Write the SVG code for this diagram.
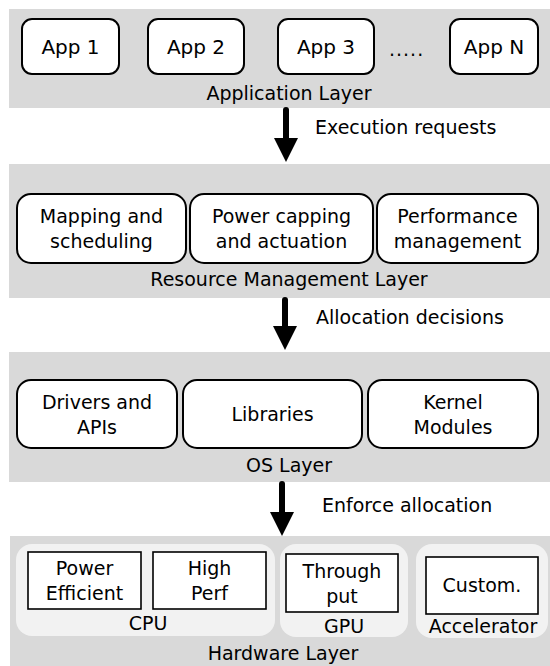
<svg xmlns="http://www.w3.org/2000/svg" width="550" height="666" viewBox="0 0 550 666">
  <defs>
    <style>
      text { font-family: "DejaVu Sans", "Liberation Sans", sans-serif; font-size: 19px; fill: #000; }
      .c { text-anchor: middle; }
      .app { font-size: 20px; }
      .layer { fill: #d9d9d9; }
      .panel { fill: #f2f2f2; }
      .rbox { fill: #ffffff; stroke: #000; stroke-width: 2; }
      .sbox { fill: #ffffff; stroke: #000; stroke-width: 1.6; }
      .stem { stroke: #000; stroke-width: 6; stroke-linecap: round; fill: none; }
      .head { fill: #000; }
    </style>
  </defs>

  <!-- Application layer -->
  <g id="application-layer">
    <rect class="layer" x="9" y="9" width="541" height="99"/>
    <text class="c" x="289" y="100">Application Layer</text>
  </g>
  <g id="app1">
    <rect class="rbox" x="22" y="19" width="97" height="55" rx="10"/>
    <text class="c app" x="70.5" y="54">App 1</text>
  </g>
  <g id="app2">
    <rect class="rbox" x="148" y="19" width="96" height="55" rx="10"/>
    <text class="c app" x="196" y="54">App 2</text>
  </g>
  <g id="app3">
    <rect class="rbox" x="278" y="19" width="96" height="55" rx="10"/>
    <text class="c app" x="326" y="54">App 3</text>
  </g>
  <text x="389" y="56" style="letter-spacing:1px">.....</text>
  <g id="appN">
    <rect class="rbox" x="450" y="19" width="88" height="55" rx="10"/>
    <text class="c app" x="494" y="54">App N</text>
  </g>

  <!-- Resource management layer -->
  <g id="resource-management-layer">
    <rect class="layer" x="9" y="164" width="541" height="134"/>
    <text class="c" x="289" y="286">Resource Management Layer</text>
  </g>
  <g id="mapping">
    <rect class="rbox" x="17" y="194" width="169" height="69" rx="14"/>
    <text class="c" x="101.5" y="223">Mapping and</text>
    <text class="c" x="101.5" y="248">scheduling</text>
  </g>
  <g id="power-capping">
    <rect class="rbox" x="190" y="194" width="183" height="69" rx="14"/>
    <text class="c" x="281.5" y="223">Power capping</text>
    <text class="c" x="281.5" y="248">and actuation</text>
  </g>
  <g id="performance">
    <rect class="rbox" x="377" y="194" width="161" height="69" rx="14"/>
    <text class="c" x="457.5" y="223">Performance</text>
    <text class="c" x="457.5" y="248">management</text>
  </g>

  <!-- OS layer -->
  <g id="os-layer">
    <rect class="layer" x="9" y="352" width="541" height="130"/>
    <text class="c" x="289" y="472">OS Layer</text>
  </g>
  <g id="drivers">
    <rect class="rbox" x="17" y="380" width="160" height="68" rx="14"/>
    <text class="c" x="97" y="409">Drivers and</text>
    <text class="c" x="97" y="434">APIs</text>
  </g>
  <g id="libraries">
    <rect class="rbox" x="183" y="380" width="179" height="68" rx="14"/>
    <text class="c" x="272.5" y="421">Libraries</text>
  </g>
  <g id="kernel-modules">
    <rect class="rbox" x="368" y="380" width="170" height="68" rx="14"/>
    <text class="c" x="453" y="409">Kernel</text>
    <text class="c" x="453" y="434">Modules</text>
  </g>

  <!-- Hardware layer -->
  <g id="hardware-layer">
    <rect class="layer" x="10" y="536" width="540" height="130"/>
    <text class="c" x="283" y="660">Hardware Layer</text>
  </g>
  <g id="cpu">
    <rect class="panel" x="16" y="544" width="259" height="92" rx="16"/>
    <text class="c" x="148" y="630">CPU</text>
  </g>
  <g id="power-efficient">
    <rect class="sbox" x="28" y="552" width="113" height="57"/>
    <text class="c" x="84.5" y="575">Power</text>
    <text class="c" x="84.5" y="600">Efficient</text>
  </g>
  <g id="high-perf">
    <rect class="sbox" x="153" y="552" width="113" height="57"/>
    <text class="c" x="209.5" y="575">High</text>
    <text class="c" x="209.5" y="600">Perf</text>
  </g>
  <g id="gpu">
    <rect class="panel" x="280" y="544" width="128" height="93" rx="16"/>
    <text class="c" x="344" y="633">GPU</text>
  </g>
  <g id="throughput">
    <rect class="sbox" x="286" y="554" width="112" height="58"/>
    <text class="c" x="342" y="578">Through</text>
    <text class="c" x="342" y="603">put</text>
  </g>
  <g id="accelerator">
    <rect class="panel" x="416" y="544" width="132" height="94" rx="16"/>
    <text class="c" x="483" y="633">Accelerator</text>
  </g>
  <g id="custom">
    <rect class="sbox" x="426" y="557" width="112" height="57"/>
    <text class="c" x="482" y="592">Custom.</text>
  </g>

  <!-- Connectors between layers -->
  <g id="connectors">
    <line class="stem" x1="286" y1="110" x2="286" y2="140"/>
    <polygon class="head" points="274,138 298,138 286,162"/>
    <text x="315" y="134">Execution requests</text>

    <line class="stem" x1="285" y1="300" x2="285" y2="328"/>
    <polygon class="head" points="273,326 297,326 285,350"/>
    <text x="316" y="324">Allocation decisions</text>

    <line class="stem" x1="282" y1="484" x2="282" y2="514"/>
    <polygon class="head" points="270,512 294,512 282,536"/>
    <text x="322" y="512">Enforce allocation</text>
  </g>
</svg>
